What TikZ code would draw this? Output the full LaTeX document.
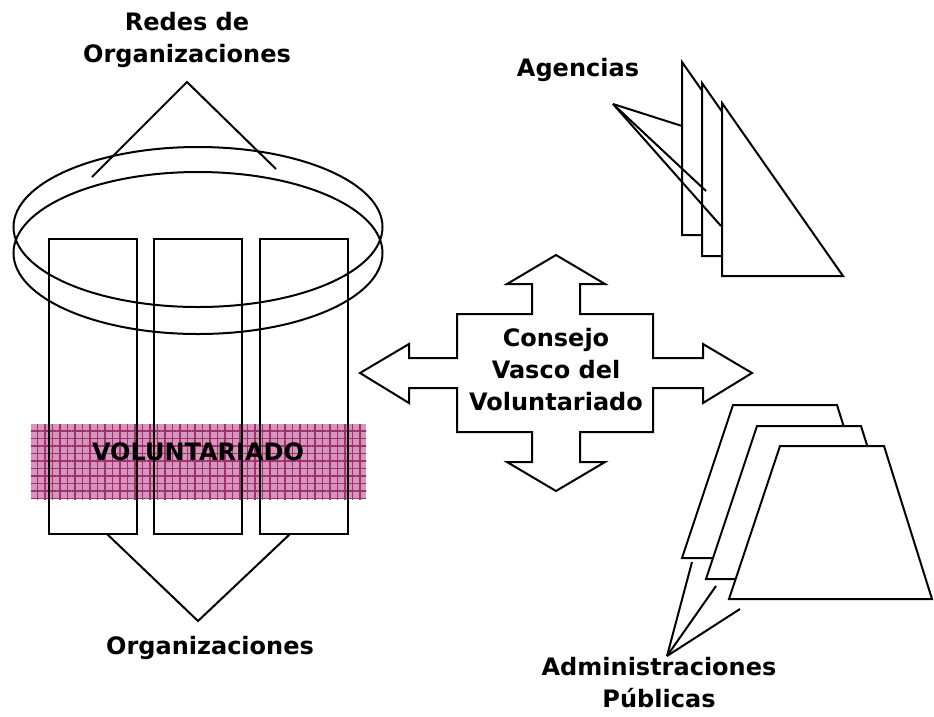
\documentclass[tikz,border=0pt]{standalone}
\usepackage{fontspec}
\setmainfont{DejaVu Sans}
\usetikzlibrary{patterns.meta}
\definecolor{bandpink}{RGB}{214,150,188}
\definecolor{bandline}{RGB}{160,48,110}

\begin{document}
\begin{tikzpicture}[x=1pt,y=-1pt,line width=2pt,line join=miter,
    lbl/.style={font=\fontsize{24}{32}\selectfont\bfseries,align=center,inner sep=0pt},
    sheet/.style={draw,fill=white}]
  \useasboundingbox (0,0) rectangle (934,716);

  % voluntariado band and the three organizations
  \fill[bandpink] (31,424) rectangle (366,499);
  \fill[pattern={Lines[distance=7.5pt,angle=0,line width=1.2pt]},pattern color=bandline] (31,424) rectangle (366,499);
  \fill[pattern={Lines[distance=7.5pt,angle=90,line width=1.2pt]},pattern color=bandline] (31,424) rectangle (366,499);
  \draw (49,239) rectangle (137,534);
  \draw (154,239) rectangle (242,534);
  \draw (260,239) rectangle (348,534);
  \node[lbl] (volunt) at (198,452) {VOLUNTARIADO};

  % redes: two rings
  \draw (198,227) ellipse (184.5 and 80);
  \draw (198,253) ellipse (184.5 and 81);

  \node[lbl] (redes) at (187,40) {Redes de\\Organizaciones};
  \coordinate (redesTip) at (187,82);
  \draw (92,177) -- (redesTip) -- (276,169);

  \node[lbl] (orgs) at (210,648) {Organizaciones};
  \coordinate (orgsTip) at (198,621);
  \draw (107,534) -- (orgsTip) -- (290,534);

  % consejo: four-way arrow
  \draw (556,255) -- (605,284) -- (580,284) -- (580,314) -- (653,314) -- (653,358)
    -- (703,358) -- (703,344) -- (752,373) -- (703,403) -- (703,388) -- (653,388)
    -- (653,432) -- (580,432) -- (580,462) -- (605,462) -- (556,491) -- (507,462)
    -- (532,462) -- (532,432) -- (457,432) -- (457,388) -- (409,388) -- (409,403)
    -- (360,373) -- (409,344) -- (409,358) -- (457,358) -- (457,314) -- (532,314)
    -- (532,284) -- (507,284) -- cycle;
  \node[lbl] (consejo) at (556,370) {Consejo\\Vasco del\\Voluntariado};

  % agencias
  \foreach \dx/\dy in {-40/-41,-20/-20,0/0}
    \draw[sheet,shift={(\dx,\dy)}] (722,103) -- (843,276) -- (722,276) -- cycle;
  \node[lbl] (agencias) at (578,70) {Agencias};
  \coordinate (agTip) at (613,104);
  \draw (agTip) -- (682,126);
  \draw (agTip) -- (706,191);
  \draw (agTip) -- (721,226);

  % administraciones
  \foreach \dx/\dy in {-47/-41,-23/-20,0/0}
    \draw[sheet,shift={(\dx,\dy)}] (780,446) -- (884,446) -- (932,599) -- (729,599) -- cycle;
  \node[lbl] (admin) at (659,683) {Administraciones\\Públicas};
  \coordinate (adTip) at (667,656);
  \draw (adTip) -- (692,562);
  \draw (adTip) -- (716,586);
  \draw (adTip) -- (740,609);
\end{tikzpicture}
\end{document}
